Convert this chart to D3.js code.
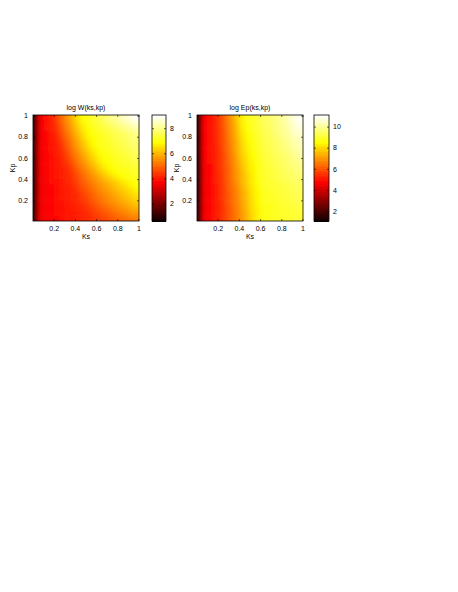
<!DOCTYPE html>
<html>
<head>
<meta charset="utf-8">
<script src="https://cdnjs.cloudflare.com/ajax/libs/d3/7.8.5/d3.min.js"></script>
<style>
    body { margin: 0; background: #fff; }
    svg text { font-family: "Liberation Sans", Arial, sans-serif; font-size: 7px; fill: #000; }
    .axis path { display: none; }
    .axis line { stroke: #000; stroke-width: 0.6; }
    .axis text { fill: #000; }
</style>
</head>
<body>
<svg id="fig" width="458" height="592"></svg>
<script>
// grid centres (same for ks and kp)
var ks = [0.025, 0.075, 0.125, 0.175, 0.225, 0.275, 0.325, 0.375, 0.425, 0.475,
          0.525, 0.575, 0.625, 0.675, 0.725, 0.775, 0.825, 0.875, 0.925, 0.975];
var kp = [0.025, 0.075, 0.125, 0.175, 0.225, 0.275, 0.325, 0.375, 0.425, 0.475,
          0.525, 0.575, 0.625, 0.675, 0.725, 0.775, 0.825, 0.875, 0.925, 0.975];

var axisTicks = [0.2, 0.4, 0.6, 0.8, 1];

var wTitle = "log W(ks,kp)";
var wRange = [0.6, 9.05];
var wTicks = [2, 4, 6, 8];
// rows: kp ascending, columns: ks ascending
var logW = [
    [1.4, 3.6, 3.7, 3.75, 3.8, 3.9, 4.0, 4.05, 4.1, 4.2, 4.3, 4.4, 4.5, 4.6, 4.7, 4.9, 5.0, 5.1, 5.2, 5.3],
    [1.4, 3.6, 3.7, 3.75, 3.85, 3.9, 4.0, 4.05, 4.15, 4.2, 4.3, 4.45, 4.6, 4.75, 4.9, 5.05, 5.2, 5.35, 5.5, 5.6],
    [1.4, 3.6, 3.7, 3.75, 3.85, 3.95, 4.0, 4.1, 4.2, 4.25, 4.45, 4.6, 4.8, 5.0, 5.15, 5.35, 5.5, 5.65, 5.8, 5.95],
    [1.4, 3.6, 3.7, 3.8, 3.85, 3.95, 4.05, 4.15, 4.25, 4.35, 4.55, 4.8, 5.0, 5.2, 5.4, 5.55, 5.7, 5.85, 6.05, 6.2],
    [1.4, 3.6, 3.7, 3.8, 3.9, 4.0, 4.1, 4.2, 4.3, 4.5, 4.7, 4.95, 5.15, 5.35, 5.55, 5.7, 5.9, 6.1, 6.25, 6.45],
    [1.4, 3.6, 3.7, 3.8, 3.9, 4.0, 4.1, 4.25, 4.35, 4.6, 4.85, 5.1, 5.3, 5.5, 5.7, 5.9, 6.1, 6.25, 6.45, 6.65],
    [1.4, 3.6, 3.7, 3.8, 3.95, 4.05, 4.15, 4.25, 4.5, 4.75, 5.0, 5.25, 5.5, 5.7, 5.9, 6.1, 6.3, 6.5, 6.7, 6.9],
    [1.4, 3.6, 3.7, 3.85, 3.95, 4.05, 4.2, 4.35, 4.6, 4.9, 5.15, 5.4, 5.6, 5.85, 6.05, 6.25, 6.5, 6.7, 6.9, 7.05],
    [1.4, 3.6, 3.75, 3.85, 4.0, 4.1, 4.25, 4.4, 4.7, 5.0, 5.35, 5.6, 5.85, 6.15, 6.4, 6.65, 6.9, 7.0, 7.1, 7.2],
    [1.4, 3.6, 3.75, 3.85, 4.0, 4.15, 4.25, 4.55, 4.85, 5.2, 5.5, 5.8, 6.15, 6.45, 6.75, 6.95, 7.05, 7.1, 7.2, 7.3],
    [1.4, 3.6, 3.75, 3.9, 4.0, 4.15, 4.3, 4.65, 5.05, 5.4, 5.75, 6.05, 6.4, 6.75, 6.95, 7.05, 7.15, 7.2, 7.3, 7.4],
    [1.4, 3.6, 3.75, 3.9, 4.05, 4.2, 4.45, 4.85, 5.25, 5.6, 5.95, 6.3, 6.65, 6.95, 7.05, 7.15, 7.25, 7.35, 7.45, 7.55],
    [1.4, 3.6, 3.75, 3.9, 4.1, 4.25, 4.55, 5.1, 5.4, 5.75, 6.15, 6.5, 6.85, 7.0, 7.1, 7.2, 7.3, 7.4, 7.5, 7.65],
    [1.4, 3.6, 3.75, 3.95, 4.1, 4.3, 4.7, 5.15, 5.55, 5.95, 6.35, 6.7, 6.95, 7.05, 7.2, 7.3, 7.4, 7.5, 7.65, 7.75],
    [1.4, 3.6, 3.8, 3.95, 4.15, 4.4, 4.85, 5.35, 5.75, 6.15, 6.55, 6.9, 7.05, 7.15, 7.25, 7.4, 7.5, 7.6, 7.75, 7.85],
    [1.4, 3.6, 3.8, 4.0, 4.2, 4.55, 5.0, 5.45, 5.9, 6.3, 6.75, 6.95, 7.1, 7.2, 7.35, 7.45, 7.6, 7.7, 7.85, 7.95],
    [1.4, 3.6, 3.8, 4.05, 4.25, 4.7, 5.15, 5.6, 6.05, 6.5, 6.9, 7.05, 7.15, 7.3, 7.4, 7.5, 7.65, 7.75, 7.9, 8.0],
    [1.4, 3.6, 3.85, 4.1, 4.35, 4.8, 5.3, 5.75, 6.2, 6.65, 6.95, 7.1, 7.25, 7.4, 7.55, 7.7, 7.85, 8.0, 8.15, 8.3],
    [1.4, 3.6, 3.85, 4.1, 4.45, 4.95, 5.45, 5.9, 6.4, 6.85, 7.05, 7.25, 7.4, 7.55, 7.75, 7.9, 8.1, 8.25, 8.45, 8.6],
    [1.4, 3.6, 3.9, 4.15, 4.55, 5.05, 5.55, 6.05, 6.55, 6.95, 7.15, 7.35, 7.55, 7.8, 8.0, 8.2, 8.4, 8.6, 8.8, 9.0]
];

var epTitle = "log Ep(ks,kp)";
var epRange = [1.05, 11.1];
var epTicks = [2, 4, 6, 8, 10];
var logEp = [
    [1.8, 4.7, 4.9, 5.1, 5.4, 5.8, 6.2, 6.6, 7.0, 7.5, 8.0, 8.4, 8.7, 8.8, 8.9, 8.9, 9.0, 9.0, 9.1, 9.1],
    [1.8, 4.7, 4.9, 5.1, 5.4, 5.8, 6.2, 6.6, 7.0, 7.5, 8.0, 8.4, 8.7, 8.8, 8.9, 8.9, 9.0, 9.0, 9.1, 9.1],
    [1.8, 4.7, 4.9, 5.1, 5.4, 5.8, 6.2, 6.7, 7.1, 7.6, 8.1, 8.4, 8.7, 8.8, 8.9, 9.0, 9.0, 9.1, 9.1, 9.2],
    [1.8, 4.7, 4.9, 5.1, 5.4, 5.9, 6.3, 6.7, 7.1, 7.6, 8.1, 8.5, 8.8, 8.9, 8.9, 9.0, 9.1, 9.1, 9.2, 9.3],
    [1.8, 4.7, 4.9, 5.1, 5.5, 5.9, 6.3, 6.7, 7.2, 7.7, 8.1, 8.5, 8.8, 8.9, 9.0, 9.0, 9.1, 9.2, 9.3, 9.4],
    [1.8, 4.7, 4.9, 5.1, 5.5, 5.9, 6.3, 6.8, 7.2, 7.7, 8.2, 8.5, 8.8, 8.9, 9.0, 9.1, 9.2, 9.3, 9.4, 9.4],
    [1.8, 4.7, 4.9, 5.1, 5.5, 5.9, 6.4, 6.8, 7.3, 7.8, 8.2, 8.6, 8.9, 9.0, 9.1, 9.1, 9.2, 9.3, 9.4, 9.5],
    [1.8, 4.7, 4.9, 5.2, 5.5, 6.0, 6.4, 6.9, 7.4, 7.9, 8.3, 8.6, 8.9, 9.0, 9.1, 9.2, 9.3, 9.4, 9.5, 9.6],
    [1.8, 4.7, 4.9, 5.2, 5.5, 6.0, 6.5, 7.0, 7.5, 7.9, 8.3, 8.7, 8.9, 9.1, 9.2, 9.3, 9.4, 9.5, 9.6, 9.7],
    [1.8, 4.7, 4.9, 5.2, 5.6, 6.0, 6.5, 7.0, 7.5, 8.0, 8.4, 8.7, 9.0, 9.1, 9.2, 9.3, 9.4, 9.6, 9.7, 9.8],
    [1.8, 4.7, 4.9, 5.2, 5.6, 6.1, 6.5, 7.1, 7.6, 8.1, 8.4, 8.7, 9.0, 9.1, 9.3, 9.4, 9.5, 9.7, 9.8, 9.9],
    [1.8, 4.8, 5.0, 5.2, 5.6, 6.1, 6.6, 7.1, 7.7, 8.1, 8.5, 8.8, 9.0, 9.2, 9.3, 9.4, 9.6, 9.7, 9.9, 10.0],
    [1.8, 4.8, 5.0, 5.2, 5.6, 6.1, 6.6, 7.2, 7.8, 8.2, 8.6, 8.8, 9.1, 9.2, 9.4, 9.5, 9.6, 9.8, 10.0, 10.2],
    [1.8, 4.8, 5.0, 5.2, 5.6, 6.2, 6.7, 7.3, 7.9, 8.3, 8.6, 8.9, 9.1, 9.3, 9.4, 9.6, 9.7, 9.9, 10.1, 10.3],
    [1.8, 4.8, 5.0, 5.2, 5.7, 6.2, 6.7, 7.3, 7.9, 8.4, 8.7, 8.9, 9.2, 9.3, 9.5, 9.6, 9.8, 10.0, 10.2, 10.4],
    [1.8, 4.8, 5.0, 5.3, 5.7, 6.2, 6.8, 7.4, 8.0, 8.5, 8.7, 9.0, 9.2, 9.4, 9.5, 9.7, 9.9, 10.1, 10.3, 10.5],
    [1.8, 4.8, 5.0, 5.3, 5.7, 6.3, 6.8, 7.5, 8.1, 8.5, 8.8, 9.0, 9.3, 9.4, 9.6, 9.8, 10.0, 10.2, 10.5, 10.6],
    [1.8, 4.8, 5.0, 5.3, 5.7, 6.3, 6.9, 7.5, 8.2, 8.6, 8.9, 9.1, 9.3, 9.5, 9.7, 9.9, 10.0, 10.3, 10.6, 10.7],
    [1.8, 4.8, 5.0, 5.3, 5.8, 6.4, 6.9, 7.6, 8.3, 8.7, 8.9, 9.1, 9.4, 9.5, 9.7, 9.9, 10.1, 10.4, 10.7, 10.9],
    [1.8, 4.8, 5.0, 5.3, 5.8, 6.4, 7.0, 7.7, 8.4, 8.8, 9.0, 9.2, 9.4, 9.6, 9.8, 10.0, 10.2, 10.5, 10.8, 11.0]
];

var svg = d3.select("#fig");
var defs = svg.append("defs");

// soften the coarse grid a little, like the interpolated original
defs.append("filter")
    .attr("id", "soft")
    .append("feGaussianBlur")
    .attr("stdDeviation", 2);

// matlab "hot" colormap as a piecewise linear scale
function hot(range) {
    var lo = range[0], span = range[1] - range[0];
    return d3.scaleLinear()
        .domain([lo, lo + 0.375 * span, lo + 0.75 * span, range[1]])
        .range(["#0b0000", "#ff0000", "#ffff00", "#ffffff"])
        .clamp(true);
}

function panel(id, left, top, size, cbLeft, cbWidth, values, range, cbTicks, title) {
    var x = d3.scaleLinear().domain([0.005, 1.005]).range([left, left + size]),
        y = d3.scaleLinear().domain([0.005, 1.005]).range([top + size, top]),
        color = hot(range),
        half = (ks[1] - ks[0]) / 2,
        pad = 8;

    defs.append("clipPath")
        .attr("id", "clip-" + id)
        .append("rect")
        .attr("x", left).attr("y", top)
        .attr("width", size).attr("height", size);

    var cells = [];
    values.forEach(function (row, i) {
        row.forEach(function (v, j) {
            cells.push({ i: i, j: j, v: v });
        });
    });

    var img = svg.append("g")
        .attr("clip-path", "url(#clip-" + id + ")")
        .append("g")
        .attr("filter", "url(#soft)");

    img.selectAll("rect")
        .data(cells)
        .enter().append("rect")
        .attr("x", function (d) { return x(ks[d.j] - half) - (d.j === 0 ? pad : 0); })
        .attr("y", function (d) { return y(kp[d.i] + half) - (d.i === kp.length - 1 ? pad : 0); })
        .attr("width", function (d) {
            var w = x(ks[d.j] + half) - x(ks[d.j] - half) + 0.5;
            if (d.j === 0 || d.j === ks.length - 1) w += pad;
            return w;
        })
        .attr("height", function (d) {
            var h = y(kp[d.i] - half) - y(kp[d.i] + half) + 0.5;
            if (d.i === 0 || d.i === kp.length - 1) h += pad;
            return h;
        })
        .attr("fill", function (d) { return color(d.v); });

    var fmt = d3.format("~g");

    // axes, ticks pointing inwards on all four sides
    svg.append("g")
        .attr("class", "axis")
        .attr("transform", "translate(0," + (top + size) + ")")
        .call(d3.axisBottom(x).tickValues(axisTicks).tickFormat(fmt).tickSizeInner(-2).tickSizeOuter(0).tickPadding(5));
    svg.append("g")
        .attr("class", "axis")
        .attr("transform", "translate(0," + top + ")")
        .call(d3.axisTop(x).tickValues(axisTicks).tickFormat("").tickSizeInner(-2).tickSizeOuter(0));
    svg.append("g")
        .attr("class", "axis")
        .attr("transform", "translate(" + left + ",0)")
        .call(d3.axisLeft(y).tickValues(axisTicks).tickFormat(fmt).tickSizeInner(-2).tickSizeOuter(0).tickPadding(5));
    svg.append("g")
        .attr("class", "axis")
        .attr("transform", "translate(" + (left + size) + ",0)")
        .call(d3.axisRight(y).tickValues(axisTicks).tickFormat("").tickSizeInner(-2).tickSizeOuter(0));

    svg.append("rect")
        .attr("x", left).attr("y", top)
        .attr("width", size).attr("height", size)
        .attr("fill", "none")
        .attr("stroke", "#000")
        .attr("stroke-width", 0.8);

    svg.append("text")
        .attr("x", left + size / 2)
        .attr("y", top - 5)
        .attr("text-anchor", "middle")
        .text(title);

    svg.append("text")
        .attr("x", left + size / 2)
        .attr("y", top + size + 18)
        .attr("text-anchor", "middle")
        .text("Ks");

    svg.append("text")
        .attr("transform", "translate(" + (left - 18) + "," + (top + size / 2) + ") rotate(-90)")
        .attr("text-anchor", "middle")
        .text("Kp");

    // colorbar
    var cy = d3.scaleLinear().domain(range).range([top + size, top]);
    var levels = d3.range(64);
    var step = (range[1] - range[0]) / 64;

    svg.append("g").selectAll("rect")
        .data(levels)
        .enter().append("rect")
        .attr("x", cbLeft)
        .attr("y", function (k) { return cy(range[0] + (k + 1) * step); })
        .attr("width", cbWidth)
        .attr("height", function (k) { return cy(range[0] + k * step) - cy(range[0] + (k + 1) * step) + 1; })
        .attr("shape-rendering", "crispEdges")
        .attr("fill", function (k) { return color(range[0] + (k + 0.5) * step); });

    svg.append("g")
        .attr("class", "axis")
        .attr("transform", "translate(" + (cbLeft + cbWidth) + ",0)")
        .call(d3.axisRight(cy).tickValues(cbTicks).tickFormat(fmt).tickSizeInner(-2).tickSizeOuter(0).tickPadding(4));
    svg.append("g")
        .attr("class", "axis")
        .attr("transform", "translate(" + cbLeft + ",0)")
        .call(d3.axisLeft(cy).tickValues(cbTicks).tickFormat("").tickSizeInner(-2).tickSizeOuter(0));

    svg.append("rect")
        .attr("x", cbLeft).attr("y", top)
        .attr("width", cbWidth).attr("height", size)
        .attr("fill", "none")
        .attr("stroke", "#000")
        .attr("stroke-width", 0.8);
}

panel("w", 33, 115, 106, 152, 14, logW, wRange, wTicks, wTitle);
panel("ep", 197, 115, 106, 314, 15, logEp, epRange, epTicks, epTitle);
</script>
</body>
</html>
